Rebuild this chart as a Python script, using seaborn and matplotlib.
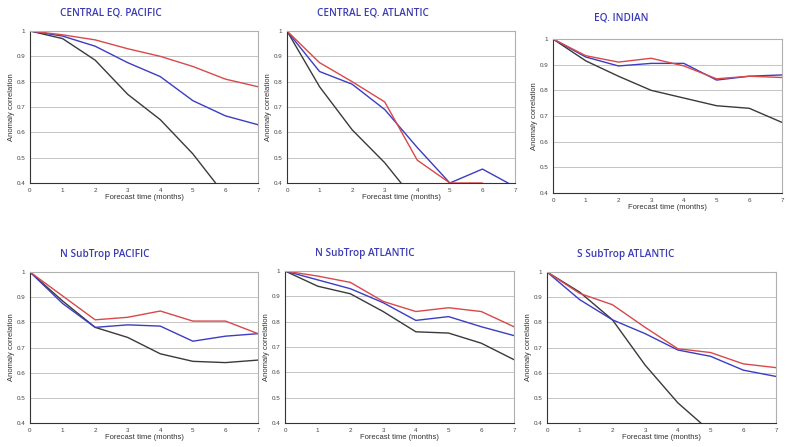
import numpy as np
import pandas as pd
import matplotlib
matplotlib.use("Agg")
import matplotlib.pyplot as plt
import seaborn as sns

months = [0, 1, 2, 3, 4, 5, 6, 7]

titles = ["CENTRAL EQ. PACIFIC", "CENTRAL EQ. ATLANTIC", "EQ. INDIAN",
          "N SubTrop PACIFIC", "N SubTrop ATLANTIC", "S SubTrop ATLANTIC"]

# red / blue / black curves for each region
red = [
    [1, 0.985, 0.965, 0.93, 0.90, 0.86, 0.81, 0.78],
    [1, 0.875, 0.80, 0.72, 0.49, 0.40, 0.40, None],
    [1, 0.935, 0.91, 0.925, 0.895, 0.845, 0.855, 0.85],
    [1, 0.905, 0.81, 0.82, 0.845, 0.805, 0.805, 0.755],
    [1, 0.98, 0.955, 0.88, 0.84, 0.855, 0.84, 0.78],
    [1, 0.915, 0.87, 0.78, 0.695, 0.68, 0.635, 0.62],
]
blue = [
    [1, 0.98, 0.94, 0.875, 0.82, 0.725, 0.665, 0.63],
    [1, 0.84, 0.79, 0.69, 0.54, 0.40, 0.455, 0.385],
    [1, 0.93, 0.895, 0.905, 0.905, 0.84, 0.855, 0.86],
    [1, 0.875, 0.78, 0.79, 0.785, 0.725, 0.745, 0.755],
    [1, 0.965, 0.93, 0.875, 0.805, 0.82, 0.78, 0.745],
    [1, 0.89, 0.81, 0.755, 0.69, 0.665, 0.61, 0.585],
]
black = [
    [1, 0.97, 0.885, 0.75, 0.65, 0.515, 0.35, None],
    [1, 0.78, 0.61, 0.48, 0.32, None, None, None],
    [1, 0.915, 0.855, 0.80, 0.77, 0.74, 0.73, 0.675],
    [1, 0.885, 0.78, 0.74, 0.675, 0.645, 0.64, 0.65],
    [1, 0.94, 0.91, 0.84, 0.76, 0.755, 0.715, 0.65],
    [1, 0.92, 0.81, 0.63, 0.48, 0.366, None, None],
]

yticks = [0.4, 0.5, 0.6, 0.7, 0.8, 0.9, 1]
yticklabels = ["0.4", "0.5", "0.6", "0.7", "0.8", "0.9", "1"]

# axes boxes in pixels: x0, x1, ytop, ybottom
boxes = [(30, 258, 31, 183), (287, 515, 31, 183), (553, 782, 39, 193),
         (30, 258, 272, 423), (285, 514, 271, 423), (547, 776, 272, 423)]

W, H = 786, 447
sns.set_style("white")
plt.rcParams['font.family'] = ['Liberation Sans', 'DejaVu Sans']
fig = plt.figure(figsize=(W / 100, H / 100), dpi=100)

colors = {"red": "#d9484a", "blue": "#3c3cc4", "black": "#3a3a3a"}

for i, (x0, x1, yt, yb) in enumerate(boxes):
    ax = fig.add_axes([x0 / W, 1 - yb / H, (x1 - x0) / W, (yb - yt) / H])
    rows = []
    for name, arr in (("black", black[i]), ("blue", blue[i]), ("red", red[i])):
        for m, v in zip(months, arr):
            if v is not None:
                rows.append({"month": m, "corr": v, "model": name})
    df = pd.DataFrame(rows)
    for name in ("black", "blue", "red"):
        sub = df[df.model == name]
        sns.lineplot(data=sub, x="month", y="corr", color=colors[name],
                     lw=1.0, ax=ax, legend=False)
    ax.set_xlim(0, 7)
    ax.set_ylim(0.4, 1)
    ax.set_xticks(months)
    ax.set_xticklabels([str(m) for m in months])
    ax.set_yticks(yticks)
    ax.set_yticklabels(yticklabels)
    ax.tick_params(labelsize=4.5, length=2, width=0.6, pad=1.5, colors="#444")
    for yv in yticks[1:-1]:
        ax.axhline(yv, color="#c4c4c4", lw=0.7, zorder=0)
    for s in ("top", "right"):
        ax.spines[s].set_color("#b0b0b0")
        ax.spines[s].set_linewidth(0.8)
    for s in ("left", "bottom"):
        ax.spines[s].set_color("#333")
        ax.spines[s].set_linewidth(0.8)
    ax.set_xlabel("Forecast time (months)", fontsize=5.5, color="#333", labelpad=1)
    ax.set_ylabel("Anomaly correlation", fontsize=5.5, color="#333", labelpad=1)
    ax.set_title(titles[i], fontsize=7.2, color="#3b3bb5", fontweight="semibold",
                 family="Open Sans", loc="left", x=0.13 if i != 2 else 0.18,
                 pad=11 if i != 2 else 13)

fig.savefig("out.png", dpi=100)
